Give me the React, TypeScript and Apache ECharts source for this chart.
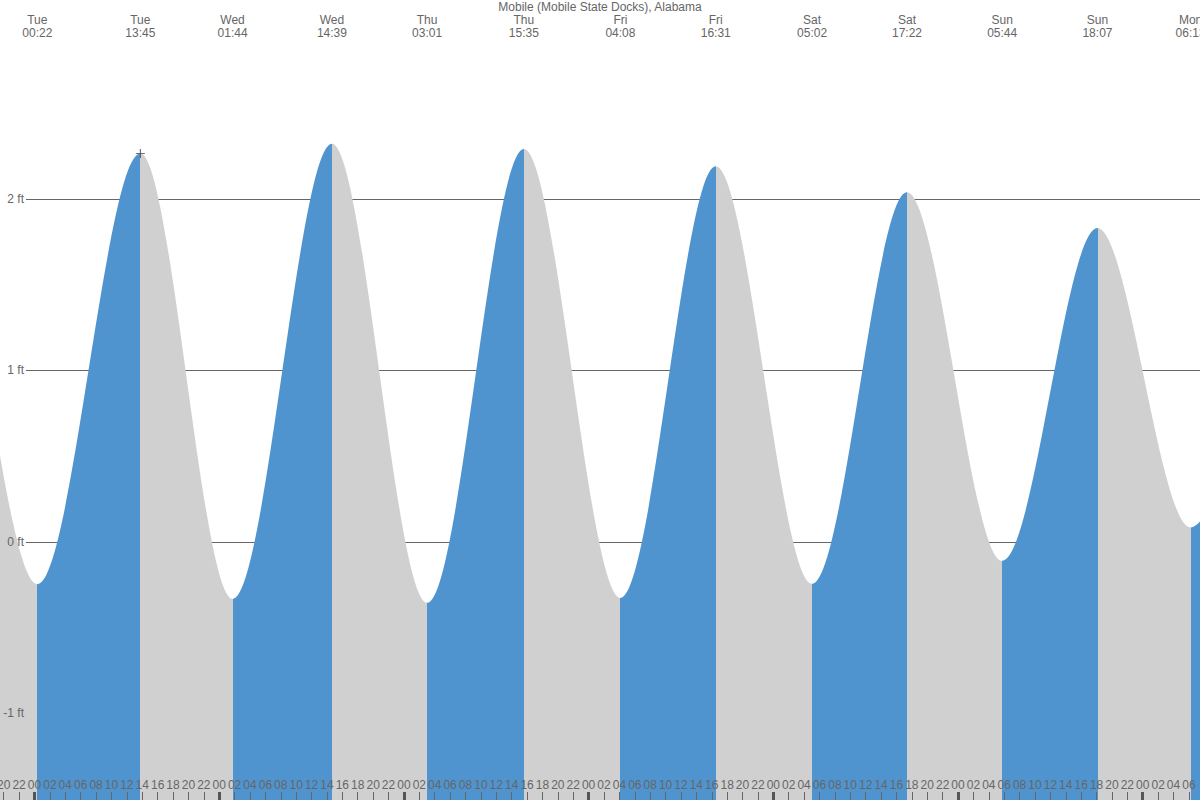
import React, { useEffect, useRef } from "react";
import * as echarts from "echarts";

// Tide extremes (alternating low / high), hours counted from Tue 00:00
const dayNames = ["Tue", "Wed", "Thu", "Fri", "Sat", "Sun", "Mon"];
const extremeDayIdx = [-2, -1, 0, 0, 1, 1, 2, 2, 3, 3, 4, 4, 5, 5, 6, 6];
const extremeTimes = [
  "23:05", "12:00", "00:22", "13:45", "01:44", "14:39", "03:01", "15:35", "04:08",
  "16:31", "05:02", "17:22", "05:44", "18:07", "06:13", "18:50",
];
const extremeHeights = [
  -0.2, 1.95, -0.247, 2.265, -0.333, 2.323, -0.356, 2.292, -0.327, 2.191, -0.245,
  2.039, -0.111, 1.831, 0.084, 1.6,
];
const extremeIsHigh = extremeHeights.map((_, i) => i % 2 === 1);
const labeledExtremes = [2, 3, 4, 5, 6, 7, 8, 9, 10, 11, 12, 13, 14];

const markerPoint = [13.75, 2.265];

const yTicks = [-1, 0, 1, 2];
const hourTicks: number[] = [];
for (let h = -4; h <= 150; h += 2) hourTicks.push(h);
const dayTicks = [0, 24, 48, 72, 96, 120, 144];

const X_MIN = -4.483;
const X_MAX = 151.44;
const Y_MIN = -1.506;
const Y_MAX = 3.161;

const BLUE = "#4f94cf";
const GRAY = "#d0d0d0";
const TEXT = "#666";
const FONT = "'Liberation Sans', Arial, sans-serif";

const toHours = (i: number) => {
  const [hh, mm] = extremeTimes[i].split(":").map(Number);
  return extremeDayIdx[i] * 24 + hh + mm / 60;
};
const extremeHours = extremeTimes.map((_, i) => toHours(i));

export default function App() {
  const ref = useRef<HTMLDivElement>(null);
  useEffect(() => {
    if (!ref.current) return;
    const chart = echarts.init(ref.current, null, { renderer: "svg" });
    const lineData = extremeHours.map((h, i) => [h, extremeHeights[i]]);
    const pieces: any[] = [];
    for (let i = 0; i < extremeHours.length - 1; i++) {
      pieces.push({
        gte: extremeHours[i],
        lt: extremeHours[i + 1],
        color: extremeIsHigh[i] ? GRAY : BLUE,
      });
    }
    const topValues = labeledExtremes.map((i) => extremeHours[i]);
    const dayName = (d: number) => dayNames[((d % 7) + 7) % 7];

    chart.setOption({
      animation: false,
      backgroundColor: "#fff",
      textStyle: { fontFamily: FONT },
      title: {
        text: "Mobile (Mobile State Docks), Alabama",
        left: "center",
        top: 1,
        padding: 0,
        textStyle: { fontSize: 12, fontWeight: "normal", color: TEXT, fontFamily: FONT },
      },
      grid: [
        { left: 0, right: 0, top: 0, bottom: 0, outerBoundsMode: "none", containLabel: false },
        { left: 26, right: 0, top: 0, bottom: 0, outerBoundsMode: "none", containLabel: false },
      ],
      visualMap: {
        type: "piecewise",
        show: false,
        dimension: 0,
        seriesIndex: 0,
        pieces,
      },
      xAxis: [
        {
          type: "value",
          gridIndex: 0,
          position: "bottom",
          min: X_MIN,
          max: X_MAX,
          z: 10,
          axisLine: { show: false, onZero: false },
          splitLine: { show: false },
          axisTick: {
            show: true,
            inside: true,
            length: 8,
            customValues: hourTicks,
            lineStyle: { color: "#666", width: 1 },
          },
          axisLabel: {
            show: true,
            inside: true,
            margin: 9,
            customValues: hourTicks,
            fontSize: 12,
            lineHeight: 12,
            color: TEXT,
            fontFamily: FONT,
            formatter: (v: number) => {
              const h = ((Math.round(v) % 24) + 24) % 24;
              return (h < 10 ? "0" : "") + h;
            },
          },
        },
        {
          type: "value",
          gridIndex: 0,
          position: "bottom",
          min: X_MIN,
          max: X_MAX,
          z: 11,
          axisLine: { show: false, onZero: false },
          splitLine: { show: false },
          axisLabel: { show: false },
          axisTick: {
            show: true,
            inside: true,
            length: 8,
            customValues: dayTicks,
            lineStyle: { color: "#555", width: 3 },
          },
        },
        {
          type: "value",
          gridIndex: 0,
          position: "top",
          min: X_MIN,
          max: X_MAX,
          z: 10,
          axisLine: { show: false, onZero: false },
          splitLine: { show: false },
          axisTick: { show: false },
          axisLabel: {
            show: true,
            inside: true,
            margin: 13,
            customValues: topValues,
            fontSize: 12,
            lineHeight: 13,
            color: TEXT,
            fontFamily: FONT,
            formatter: (v: number) => {
              const i = extremeHours.findIndex((h) => Math.abs(h - v) < 1e-6);
              if (i < 0) return "";
              return dayName(extremeDayIdx[i]) + "\n" + extremeTimes[i];
            },
          },
        },
        {
          type: "value",
          gridIndex: 1,
          min: X_MIN,
          max: X_MAX,
          show: false,
        },
      ],
      yAxis: [
        { type: "value", gridIndex: 0, min: Y_MIN, max: Y_MAX, show: false },
        {
          type: "value",
          gridIndex: 1,
          position: "left",
          min: Y_MIN,
          max: Y_MAX,
          z: 0,
          axisLine: { show: false, onZero: false },
          axisTick: { show: false, customValues: yTicks },
          axisLabel: { show: false, customValues: yTicks },
          splitLine: { show: true, lineStyle: { color: "#666", width: 1 } },
        },
        {
          type: "value",
          gridIndex: 1,
          position: "left",
          offset: 0,
          min: Y_MIN,
          max: Y_MAX,
          z: 10,
          axisLine: { show: false, onZero: false },
          axisTick: { show: false, customValues: yTicks },
          splitLine: { show: false },
          axisLabel: {
            show: true,
            margin: 2,
            customValues: yTicks,
            fontSize: 12,
            color: TEXT,
            fontFamily: FONT,
            formatter: (v: number) => v + " ft",
          },
        },
      ],
      series: [
        {
          type: "line",
          xAxisIndex: 0,
          yAxisIndex: 0,
          data: lineData,
          smooth: 1 / 3,
          smoothMonotone: "x",
          showSymbol: false,
          symbol: "none",
          lineStyle: { width: 0, opacity: 0 },
          areaStyle: { opacity: 1, origin: "start" },
          z: 2,
        },
        {
          type: "scatter",
          xAxisIndex: 0,
          yAxisIndex: 0,
          data: [markerPoint],
          symbol: "path://M4.5,0 h1 v10 h-1 z M0,4.5 h10 v1 h-10 z",
          symbolSize: 9,
          itemStyle: { color: "#444", opacity: 1 },
          z: 5,
        },
      ],
    });
    return () => chart.dispose();
  }, []);
  return (
    <div
      ref={ref}
      style={{ position: "fixed", left: 0, top: 0, width: 1200, height: 800 }}
    />
  );
}
